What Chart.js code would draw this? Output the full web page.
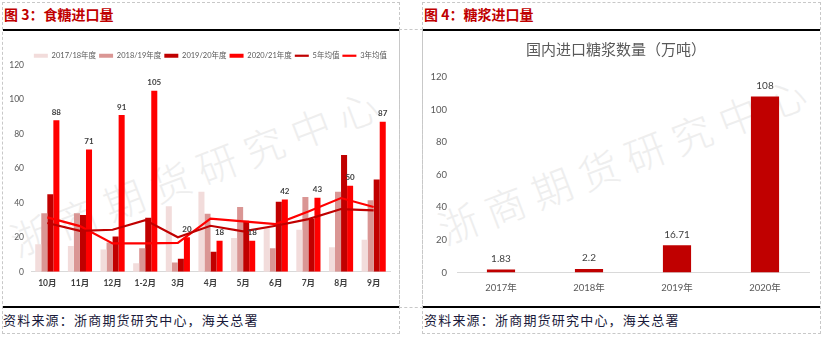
<!DOCTYPE html>
<html>
<head>
<meta charset="utf-8">
<script src="https://cdn.jsdelivr.net/npm/chart.js@4.4.0/dist/chart.umd.min.js"></script>
<style>
  body { margin: 0; background: #fff; width: 823px; height: 338px; overflow: hidden; position: relative; font-family: "Noto Sans CJK SC", sans-serif; }
  .box { position: absolute; border: 1px dashed #c8c8c8; box-sizing: border-box; }
  .rule { position: absolute; height: 2px; background: #000; }
  .head { position: absolute; top: 4px; font-size: 14px; font-weight: bold; color: #c00000; white-space: nowrap; }
  .src { position: absolute; top: 310px; font-size: 13px; color: #1a1a3a; letter-spacing: 1.2px; white-space: nowrap; }
  .wm { position: absolute; font-size: 40px; font-weight: 300; color: #eeeeee; letter-spacing: 10px; white-space: nowrap; transform: translate(-50%, -50%) rotate(-21deg); z-index: 0; }
  .cv { position: absolute; z-index: 1; }
</style>
</head>
<body>
<div class="box" style="left:2px;top:2px;width:398px;height:332px;"></div>
<div class="box" style="left:422px;top:2px;width:399px;height:332px;"></div>
<div class="box" style="left:399px;top:29px;width:24px;height:279px;"></div>
<div class="rule" style="left:3px;top:29px;width:396px;"></div>
<div class="rule" style="left:423px;top:29px;width:397px;"></div>
<div class="rule" style="left:3px;top:306px;width:396px;"></div>
<div class="rule" style="left:423px;top:306px;width:397px;"></div>
<div class="head" style="left:4px;">图 3：食糖进口量</div>
<div class="head" style="left:424px;">图 4：糖浆进口量</div>
<div class="src" style="left:3px;">资料来源：浙商期货研究中心，海关总署</div>
<div class="src" style="left:424px;">资料来源：浙商期货研究中心，海关总署</div>
<div class="wm" style="left:198px;top:170px;">浙商期货研究中心</div>
<div class="wm" style="left:626px;top:158px;">浙商期货研究中心</div>
<div class="cv" style="left:3px;top:31px;width:396px;height:275px;"><canvas id="sugarChart"></canvas></div>
<div class="cv" style="left:423px;top:31px;width:397px;height:275px;"><canvas id="syrupChart"></canvas></div>

<script>
// 食糖进口量 (万吨)
var months = ['10月', '11月', '12月', '1-2月', '3月', '4月', '5月', '6月', '7月', '8月', '9月'];
var season1718 = [16, 15, 13, 5, 38, 46.5, 19.6, 25.4, 24.4, 14.3, 18.6];
var season1819 = [34, 34, 17, 13.6, 5.4, 33.7, 37.6, 13.6, 43.4, 46.5, 41.5];
var season1920 = [45, 33, 20.5, 31.4, 7.6, 11.6, 29.6, 40.7, 30.6, 67.8, 53.5];
var season2021 = [88, 71, 91, 105, 20, 18, 18, 42, 43, 50, 87];
var avg5y = [28.3, 23.8, 24.4, 30, 20, 26.7, 23.5, 26.7, 30.6, 36.4, 35.7];
var avg3y = [31.6, 26.5, 16.5, 16.5, 16.8, 30.8, 29.3, 27.7, 35, 42.8, 37.6];
var sugarTicks = [0, 20, 40, 60, 80, 100, 120];

// 国内进口糖浆数量 (万吨)
var years = ['2017年', '2018年', '2019年', '2020年'];
var syrupValues = [1.83, 2.2, 16.71, 108];
var syrupTicks = [0, 20, 40, 60, 80, 100, 120];

var fontFam = "Lato, 'Noto Sans CJK SC', sans-serif";

// little plugin for value labels above bars
var barLabels = {
  id: 'barLabels',
  afterDatasetsDraw: function(chart, args, opts) {
    var ctx = chart.ctx;
    chart.data.datasets.forEach(function(ds, i) {
      if (!ds.showLabels) return;
      var meta = chart.getDatasetMeta(i);
      ctx.save();
      ctx.font = opts.font;
      ctx.fillStyle = opts.color;
      ctx.textAlign = 'center';
      ctx.textBaseline = 'middle';
      meta.data.forEach(function(bar, j) {
        ctx.fillText(String(ds.data[j]), bar.x, bar.y - opts.offset);
      });
      ctx.restore();
    });
  }
};

function init() {
  getSugarChart();
  getSyrupChart();
}

function getSugarChart() {
  var ctx = document.getElementById('sugarChart').getContext('2d');
  var chart = new Chart(ctx, {
    type: 'bar',
    data: {
      labels: months,
      datasets: [
        { label: '2017/18年度', data: season1718, backgroundColor: '#f2dcdb', pointStyle: 'rect', order: 1 },
        { label: '2018/19年度', data: season1819, backgroundColor: '#da9694', pointStyle: 'rect', order: 1 },
        { label: '2019/20年度', data: season1920, backgroundColor: '#c00000', pointStyle: 'rect', order: 1 },
        { label: '2020/21年度', data: season2021, backgroundColor: '#ff0000', pointStyle: 'rect', order: 1, showLabels: true },
        { label: '5年均值', type: 'line', data: avg5y, borderColor: '#c00000', backgroundColor: '#c00000', borderWidth: 2.2, pointRadius: 0, pointStyle: 'line', tension: 0, order: 0 },
        { label: '3年均值', type: 'line', data: avg3y, borderColor: '#ff0000', backgroundColor: '#ff0000', borderWidth: 2.2, pointRadius: 0, pointStyle: 'line', tension: 0, order: 0 }
      ]
    },
    options: {
      responsive: true,
      maintainAspectRatio: false,
      animation: false,
      datasets: { bar: { categoryPercentage: 0.74, barPercentage: 1 } },
      layout: { padding: { left: 0, right: 9, top: 18, bottom: 12 } },
      plugins: {
        legend: {
          display: true,
          position: 'top',
          align: 'end',
          labels: {
            usePointStyle: true,
            pointStyleWidth: 14,
            boxHeight: 4,
            padding: 3,
            color: '#595959',
            font: { family: fontFam, size: 7.5 },
            sort: function(a, b) { return a.datasetIndex - b.datasetIndex; }
          }
        },
        tooltip: { enabled: false },
        barLabels: { font: "bold 8px " + fontFam, color: '#404040', offset: 8 }
      },
      scales: {
        x: {
          grid: { display: false, drawTicks: false },
          border: { color: '#d9d9d9' },
          ticks: { color: '#404040', font: { family: fontFam, size: 8.5, weight: 'bold' }, padding: 6 }
        },
        y: {
          min: 0,
          max: 120,
          afterBuildTicks: function(scale) {
            scale.ticks = sugarTicks.map(function(v) { return { value: v }; });
          },
          afterFit: function(scale) { scale.width = 28; },
          grid: { display: false, drawTicks: false },
          border: { display: false },
          ticks: { color: '#595959', font: { family: fontFam, size: 8.5 }, padding: 7 }
        }
      }
    },
    plugins: [barLabels, {
      id: 'legendHeight',
      beforeInit: function(chart) {
        var fit = chart.legend.fit;
        chart.legend.fit = function() {
          fit.bind(chart.legend)();
          this.height = 16;
        };
      }
    }]
  });
}

function getSyrupChart() {
  var ctx = document.getElementById('syrupChart').getContext('2d');
  var chart = new Chart(ctx, {
    type: 'bar',
    data: {
      labels: years,
      datasets: [{
        label: '国内进口糖浆数量（万吨）',
        data: syrupValues,
        backgroundColor: '#c00000',
        categoryPercentage: 1,
        barPercentage: 0.32,
        showLabels: true
      }]
    },
    options: {
      responsive: true,
      maintainAspectRatio: false,
      animation: false,
      layout: { padding: { left: 0, right: 11, top: 0, bottom: 2 } },
      plugins: {
        legend: { display: false },
        tooltip: { enabled: false },
        title: {
          display: true,
          text: '国内进口糖浆数量（万吨）',
          color: '#595959',
          font: { family: "'Noto Sans CJK SC', sans-serif", size: 15, weight: 'normal' },
          padding: { top: 9, bottom: 19 }
        },
        barLabels: { font: "10px " + fontFam, color: '#404040', offset: 11 }
      },
      scales: {
        x: {
          grid: { display: false, drawTicks: false },
          border: { color: '#d9d9d9' },
          ticks: { color: '#595959', font: { family: fontFam, size: 9.5 }, padding: 10 }
        },
        y: {
          min: 0,
          max: 120,
          afterBuildTicks: function(scale) {
            scale.ticks = syrupTicks.map(function(v) { return { value: v }; });
          },
          afterFit: function(scale) { scale.width = 34; },
          grid: { display: false, drawTicks: false },
          border: { display: false },
          ticks: { color: '#595959', font: { family: fontFam, size: 9.5 }, padding: 10 }
        }
      }
    },
    plugins: [barLabels]
  });
}

init();
</script>
</body>
</html>
